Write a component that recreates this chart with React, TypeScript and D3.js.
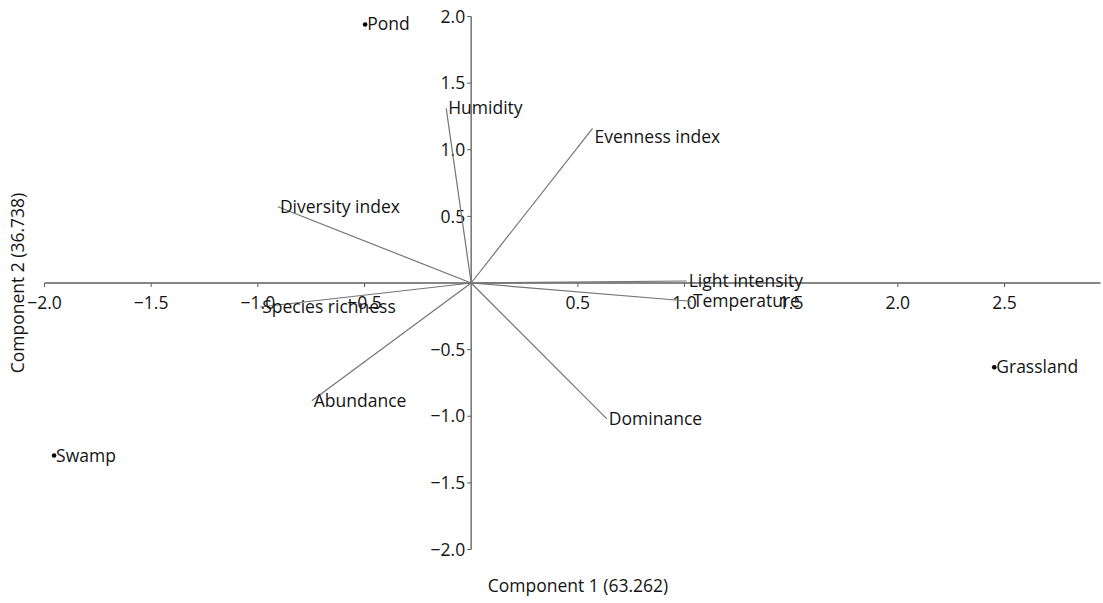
import React from "react";
import * as d3 from "d3";

// Site scores (Component 1, Component 2)
const siteNames = ["Pond", "Swamp", "Grassland"];
const siteX = [-0.497, -1.955, 2.452];
const siteY = [1.94, -1.295, -0.632];

// Variable loadings drawn as vectors from the origin
const varNames = [
  "Humidity",
  "Evenness index",
  "Diversity index",
  "Species richness",
  "Light intensity",
  "Temperature",
  "Abundance",
  "Dominance",
];
const varX = [-0.117, 0.569, -0.906, -0.989, 1.01, 1.03, -0.747, 0.636];
const varY = [1.31, 1.16, 0.572, -0.18, 0.015, -0.137, -0.883, -1.02];

const xTicks = [-2.0, -1.5, -1.0, -0.5, 0.5, 1.0, 1.5, 2.0, 2.5];
const yTicks = [2.0, 1.5, 1.0, 0.5, -0.5, -1.0, -1.5, -2.0];

const xTitle = "Component 1 (63.262)";
const yTitle = "Component 2 (36.738)";

const W = 1103;
const H = 603;
const FONT = "'Open Sans', 'Noto Sans', sans-serif";
const FS = 17.5;

// labels that hang below their vector tip instead of centring on it
const hangingLabels = new Set(["Evenness index"]);

export default function App() {
  const x = d3.scaleLinear().domain([-2, 2.95]).range([44.5, 1100.5]);
  const y = d3.scaleLinear().domain([-2, 2]).range([549.5, 16.5]);
  const x0 = x(0);
  const y0 = y(0);
  const fmt = d3.format(".1f");
  const axisColor = "#5e5e5e";
  const vecColor = "#747474";
  const textColor = "#141414";

  return (
    <svg
      width={W}
      height={H}
      style={{ position: "absolute", left: 0, top: 0, background: "#fff" }}
      fontFamily={FONT}
      fontSize={FS}
    >
      {/* horizontal axis through the origin */}
      <line x1={x(-2)} x2={x(2.95)} y1={y0} y2={y0} stroke={axisColor} strokeWidth={1.3} />
      {xTicks.map((t) => (
        <g key={"xt" + t}>
          <line x1={x(t)} x2={x(t)} y1={y0} y2={y0 + 4} stroke={axisColor} strokeWidth={1} />
          <text x={x(t)} y={y0 + 26} textAnchor="middle" fill={textColor}>
            {fmt(t)}
          </text>
        </g>
      ))}

      {/* vertical axis through the origin */}
      <line x1={x0} x2={x0} y1={y(2)} y2={y(-2)} stroke={axisColor} strokeWidth={1.3} />
      {yTicks.map((t) => (
        <g key={"yt" + t}>
          <line x1={x0 - 4} x2={x0} y1={y(t)} y2={y(t)} stroke={axisColor} strokeWidth={1} />
          <text x={x0 - 6} y={y(t)} dy="0.35em" textAnchor="end" fill={textColor}>
            {fmt(t)}
          </text>
        </g>
      ))}

      {/* loading vectors */}
      {varNames.map((n, i) => (
        <g key={n}>
          <line
            x1={x0}
            y1={y0}
            x2={x(varX[i])}
            y2={y(varY[i])}
            stroke={vecColor}
            strokeWidth={1.2}
          />
          <text
            x={x(varX[i]) + 2}
            y={y(varY[i])}
            dy={hangingLabels.has(n) ? "0.82em" : "0.34em"}
            fill={textColor}
          >
            {n}
          </text>
        </g>
      ))}

      {/* site points */}
      {siteNames.map((n, i) => (
        <g key={n}>
          <circle cx={x(siteX[i])} cy={y(siteY[i])} r={2.3} fill="#000" />
          <text x={x(siteX[i]) + 2} y={y(siteY[i])} dy="0.34em" fill={textColor}>
            {n}
          </text>
        </g>
      ))}

      {/* axis titles */}
      <text x={578} y={592} textAnchor="middle" fill={textColor}>
        {xTitle}
      </text>
      <text
        transform={`translate(24, 283) rotate(-90)`}
        textAnchor="middle"
        fill={textColor}
      >
        {yTitle}
      </text>
    </svg>
  );
}
